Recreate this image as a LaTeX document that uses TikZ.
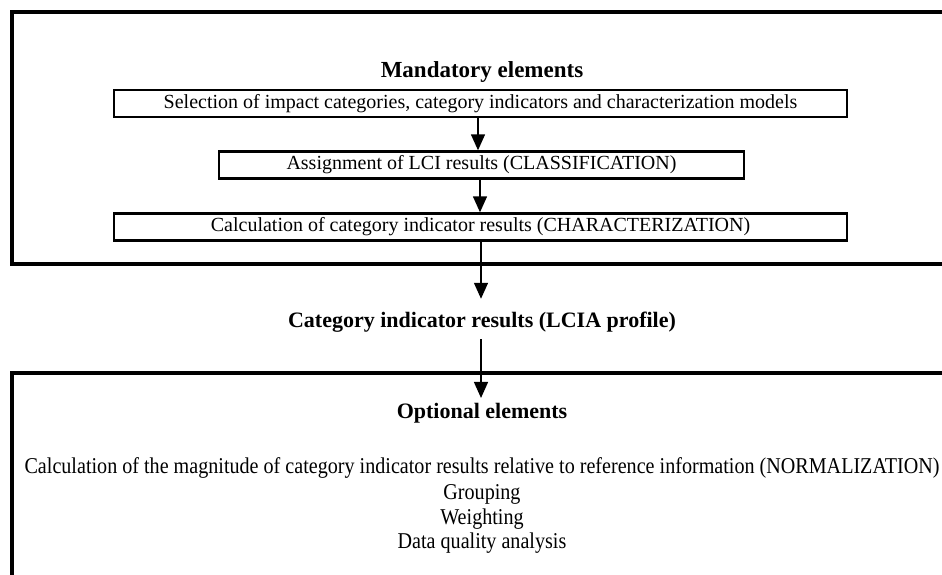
\documentclass[tikz,border=0pt]{standalone}
\usepackage{fontspec}
\setmainfont{Liberation Serif}
\newfontfamily\condfont[FakeStretch=0.89]{Liberation Serif}
\usetikzlibrary{arrows.meta}

\tikzset{
  frame/.style={draw, line width=2pt},
  stepbox/.style={draw, line width=1.2pt, minimum height=13.5pt, inner sep=0pt, font=\fontsize{10}{11}\selectfont},
  heading/.style={font=\fontsize{11}{12}\selectfont\bfseries},
  optline/.style={font=\condfont\fontsize{11.3}{12}\selectfont},
  flow/.style={line width=0.7pt, -{Triangle[width=7pt,length=8pt]}}
}

\begin{document}
\begin{tikzpicture}[x=0.5pt, y=-0.5pt]
    \useasboundingbox (0,0) rectangle (942,574);
    \clip (0,0) rectangle (942,574);

    % Cornici esterne
    \draw[frame] (11.5,12) rectangle (970,264);
    \draw[frame] (11.5,373) rectangle (970,620);

    % Elementi obbligatori
    \node[heading, font=\fontsize{11.5}{12}\selectfont\bfseries] (mand) at (482,72) {Mandatory elements};
    \node[stepbox, minimum width=366.5pt] (sel) at (480.5,103.5)
        {Selection of impact categories, category indicators and characterization models};
    \node[stepbox, minimum width=262.5pt] (assign) at (481.5,165)
        {Assignment of LCI results (CLASSIFICATION)};
    \node[stepbox, minimum width=366.5pt] (charact) at (480.5,227)
        {Calculation of category indicator results (CHARACTERIZATION)};

    % Risultato intermedio
    \node[heading] (lcia) at (482,322) {Category indicator results (LCIA profile)};

    % Elementi opzionali
    \node[heading] (opt) at (482,413) {Optional elements};
    \node[optline] (norm) at (482,468)
        {Calculation of the magnitude of category indicator results relative to reference information (NORMALIZATION)};
    \node[optline] (group) at (482,494) {Grouping};
    \node[optline] (weight) at (482,519) {Weighting};
    \node[optline] (dq) at (482,543) {Data quality analysis};

    % Frecce
    \draw[flow] (sel.south -| 478,0) -- (assign.north -| 478,0);
    \draw[flow] (assign.south -| 480,0) -- (charact.north -| 480,0);
    \draw[flow] (charact.south -| 481,0) -- ([yshift=3pt]lcia.north -| 481,0);
    \draw[flow] (lcia.south -| 481,0) -- ([yshift=-1pt]opt.north -| 481,0);
\end{tikzpicture}
\end{document}
